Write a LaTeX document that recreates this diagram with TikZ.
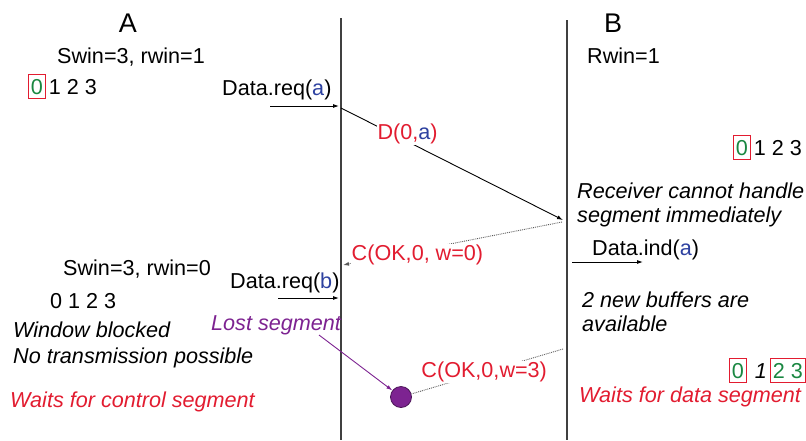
\documentclass[tikz,border=0pt]{standalone}
\usepackage{fontspec}
\setmainfont{Liberation Sans}
\usetikzlibrary{arrows.meta}
\definecolor{msgred}{RGB}{226,28,48}
\definecolor{varblue}{RGB}{45,65,160}
\definecolor{bufgreen}{RGB}{25,135,65}
\definecolor{lostpurple}{RGB}{125,35,145}

\begin{document}
\begin{tikzpicture}[x=1pt, y=-1pt,
	every node/.style={font=\fontsize{21.6}{25}\selectfont, inner sep=0pt, anchor=base west},
	>={Latex[length=6pt, width=4pt]},
	timeline/.style={line width=1.4pt, gray!50!black},
	winbox/.style={draw=msgred, text=bufgreen, inner xsep=2.5pt, inner ysep=4.5pt, line width=0.7pt},
	msg/.style={anchor=center, text=msgred, fill=white, inner sep=1pt},
	ctrl/.style={densely dotted, line width=0.9pt, gray!70!black},
	note/.style={font=\fontsize{21.6}{25}\selectfont\itshape},
	warn/.style={note, text=msgred}]
	\useasboundingbox (0,0) rectangle (806,440);
	\coordinate (Atop) at (341,18);
	\coordinate (Abot) at (341,440);
	\coordinate (Btop) at (567,20);
	\coordinate (Bbot) at (567,440);
	\draw[timeline] (Atop) -- (Abot);
	\draw[timeline] (Btop) -- (Bbot);
	\node[anchor=base, font=\fontsize{27}{30}\selectfont] (hostA) at (128,32) {A};
	\node[anchor=base, font=\fontsize{27}{30}\selectfont] (hostB) at (613,32) {B};
	\node (swinA) at (57,63) {Swin=3, rwin=1};
	\node[winbox] (bufA0) at (28,94) {0};
	\node (bufA) at ([xshift=3pt]bufA0.base east) {1 2 3};
	\node (rwinB) at (587,63) {Rwin=1};
	\node (reqa) at (222,95) {Data.req(\textcolor{varblue}{a})};
	\coordinate (reqaS) at (270,106);
	\coordinate (reqaE) at (339,106);
	\draw[->, line width=0.9pt] (reqaS) -- (reqaE);
	\coordinate (dataA) at (341,108);
	\coordinate (dataB) at (563,220);
	\draw[->, line width=0.9pt] (dataA) -- node[msg, pos=0.3, yshift=8pt] (dlab) {D(0,\textcolor{varblue}{a})} (dataB);
	\node[winbox] (bufB0) at (733,155) {0};
	\node (bufB) at ([xshift=3pt]bufB0.base east) {1 2 3};
	\node[note] (recv1) at (577,198) {Receiver cannot handle};
	\node[note] (recv2) at (577,222) {segment immediately};
	\coordinate (ackB) at (562,222);
	\coordinate (ackA) at (343,265);
	\draw[ctrl, ->] (ackB) -- node[msg, pos=0.66, yshift=-5pt] (alab) {C(OK,0, w=0)} (ackA);
	\node (inda) at (592,255) {Data.ind(\textcolor{varblue}{a})};
	\coordinate (indaS) at (572,262);
	\coordinate (indaE) at (643,262);
	\draw[->, line width=0.9pt] (indaS) -- (indaE);
	\node (swinA2) at (63,275) {Swin=3, rwin=0};
	\node (bufA2) at (50,308) {0 1 2 3};
	\node[note] (blk1) at (13,337) {Window blocked};
	\node[note] (blk2) at (13,363) {No transmission possible};
	\node[warn] (waitA) at (10,407) {Waits for control segment};
	\node (reqb) at (230,288) {Data.req(\textcolor{varblue}{b})};
	\coordinate (reqbS) at (278,298);
	\coordinate (reqbE) at (339,298);
	\draw[->, line width=0.9pt] (reqbS) -- (reqbE);
	\node[note, text=lostpurple] (lostlab) at (211,330) {Lost segment};
	\node[circle, minimum size=21pt, fill=lostpurple, draw=lostpurple!60!black, line width=0.8pt, anchor=center] (lost) at (401,397) {};
	\coordinate (lostS) at (319,335);
	\draw[->, lostpurple, line width=0.9pt] (lostS) -- (lost);
	\coordinate (updB) at (563,349);
	\draw[ctrl] (updB) -- node[msg, pos=0.52] (ulab) {C(OK,0,w=3)} (lost);
	\node[note] (buf1) at (582,307) {2 new buffers are};
	\node[note] (buf2) at (582,331) {available};
	\node[winbox] (bufB0b) at (729,378) {0};
	\node[note] (bufB1) at ([xshift=8pt]bufB0b.base east) {1};
	\node[winbox] (bufB23) at ([xshift=3pt]bufB1.base east) {2 3};
	\node[warn] (waitB) at (579,402) {Waits for data segment};
\end{tikzpicture}
\end{document}
